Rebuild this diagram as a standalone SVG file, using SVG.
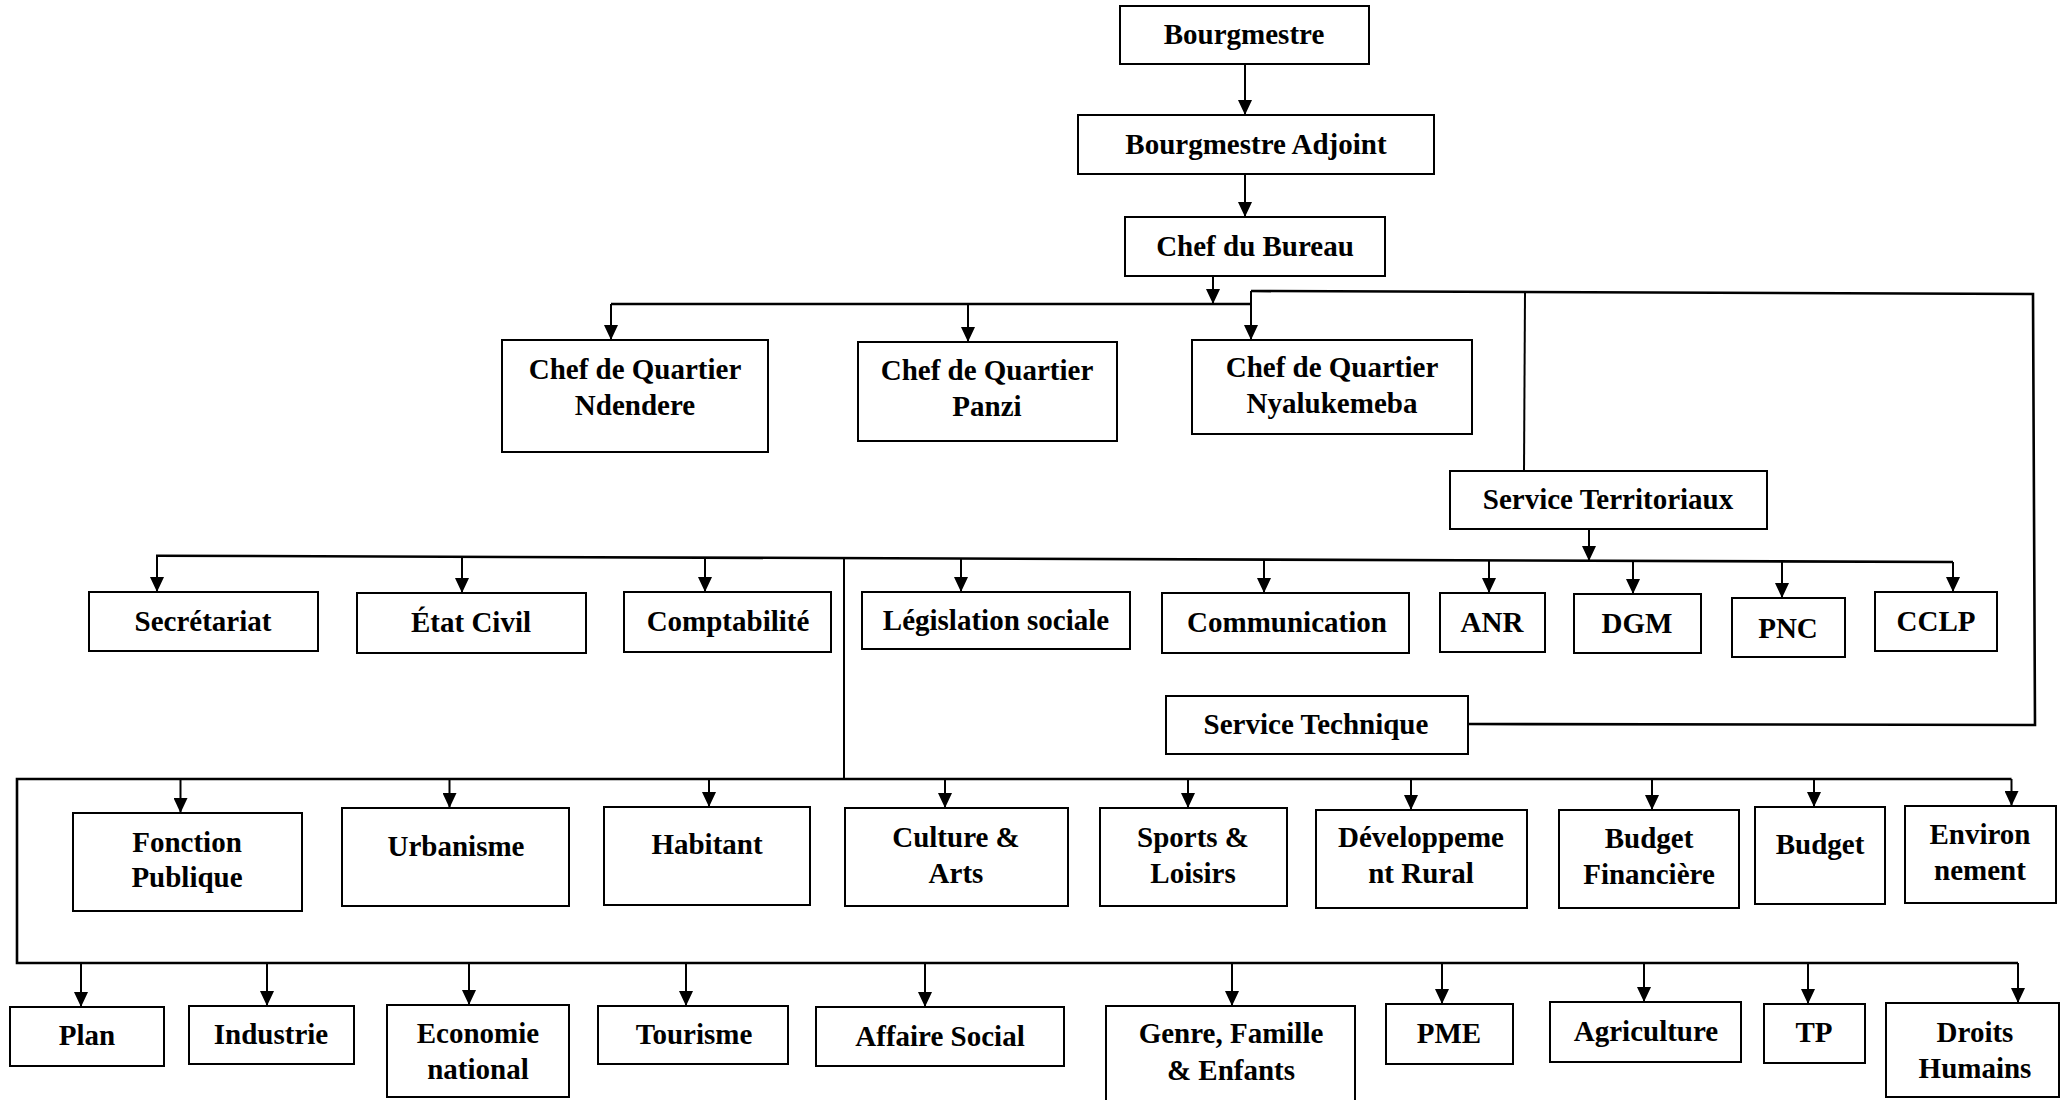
<svg xmlns="http://www.w3.org/2000/svg" width="2062" height="1100" viewBox="0 0 2062 1100">
<style>
.box{fill:#fff;stroke:#000;stroke-width:2}
.t{font-family:"Liberation Serif","Times New Roman",serif;font-weight:bold;font-size:29px;fill:#000;text-anchor:middle}
.ln{fill:none;stroke:#000;stroke-width:2}
.bus{fill:none;stroke:#000;stroke-width:2.6}
.ar{fill:none;stroke:#000;stroke-width:2;marker-end:url(#ah)}
</style>
<defs>
<marker id="ah" markerUnits="userSpaceOnUse" viewBox="0 0 15 14" markerWidth="15" markerHeight="14" refX="15" refY="7" orient="auto">
<path d="M0,0 L15,7 L0,14 z" fill="#000"/>
</marker>
</defs>
<rect width="2062" height="1100" fill="#fff"/>
<g id="connectors">
<line class="ar" x1="1245" y1="64" x2="1245" y2="115"/>
<line class="ar" x1="1245" y1="174" x2="1245" y2="217"/>
<line class="ar" x1="1213" y1="276" x2="1213" y2="304"/>
<line class="bus" x1="611" y1="304" x2="1251" y2="304"/>
<line class="ar" x1="611" y1="304" x2="611" y2="340"/>
<line class="ar" x1="968" y1="304" x2="968" y2="342"/>
<line class="ar" x1="1251" y1="291" x2="1251" y2="340"/>
<polyline class="bus" points="1251,291 2033,294 2035,725 1468,724"/>
<line class="ln" x1="1525" y1="292" x2="1524" y2="471"/>
<line class="ar" x1="1589" y1="529" x2="1589" y2="561"/>
<line class="bus" x1="156" y1="555.7" x2="1953" y2="562"/>
<line class="ar" x1="157" y1="556" x2="157" y2="592"/>
<line class="ar" x1="462" y1="557" x2="462" y2="593"/>
<line class="ar" x1="705" y1="557.5" x2="705" y2="592"/>
<line class="ar" x1="961" y1="558.5" x2="961" y2="592"/>
<line class="ar" x1="1264" y1="559.5" x2="1264" y2="593"/>
<line class="ar" x1="1489" y1="560.4" x2="1489" y2="593"/>
<line class="ar" x1="1633" y1="561" x2="1633" y2="594"/>
<line class="ar" x1="1782" y1="561.4" x2="1782" y2="598"/>
<line class="ar" x1="1953" y1="562" x2="1953" y2="592"/>
<line class="ln" x1="844" y1="558" x2="844" y2="779"/>
<polyline class="bus" points="2011.5,779 17,779 17,963 2018,963"/>
<line class="ar" x1="180.5" y1="779" x2="180.5" y2="813"/>
<line class="ar" x1="449.5" y1="779" x2="449.5" y2="808"/>
<line class="ar" x1="709" y1="779" x2="709" y2="807"/>
<line class="ar" x1="945" y1="779" x2="945" y2="808"/>
<line class="ar" x1="1188" y1="779" x2="1188" y2="808"/>
<line class="ar" x1="1411" y1="779" x2="1411" y2="810"/>
<line class="ar" x1="1652" y1="779" x2="1652" y2="810"/>
<line class="ar" x1="1814" y1="779" x2="1814" y2="807"/>
<line class="ar" x1="2011.5" y1="779" x2="2011.5" y2="806"/>
<line class="ar" x1="81" y1="963" x2="81" y2="1007"/>
<line class="ar" x1="267" y1="963" x2="267" y2="1006"/>
<line class="ar" x1="469" y1="963" x2="469" y2="1005"/>
<line class="ar" x1="686" y1="963" x2="686" y2="1006"/>
<line class="ar" x1="925" y1="963" x2="925" y2="1007"/>
<line class="ar" x1="1232" y1="963" x2="1232" y2="1006"/>
<line class="ar" x1="1442" y1="963" x2="1442" y2="1004"/>
<line class="ar" x1="1644" y1="963" x2="1644" y2="1002"/>
<line class="ar" x1="1808" y1="963" x2="1808" y2="1004"/>
<line class="ar" x1="2018" y1="963" x2="2018" y2="1003"/>
</g>
<g id="bourgmestre"><rect class="box" x="1120" y="6" width="249" height="58"/><text class="t" x="1244" y="44">Bourgmestre</text></g>
<g id="adjoint"><rect class="box" x="1078" y="115" width="356" height="59"/><text class="t" x="1256" y="154">Bourgmestre Adjoint</text></g>
<g id="chef_bureau"><rect class="box" x="1125" y="217" width="260" height="59"/><text class="t" x="1255" y="256">Chef du Bureau</text></g>
<g id="q_ndendere"><rect class="box" x="502" y="340" width="266" height="112"/><text class="t" x="635" y="379">Chef de Quartier</text><text class="t" x="635" y="415">Ndendere</text></g>
<g id="q_panzi"><rect class="box" x="858" y="342" width="259" height="99"/><text class="t" x="987" y="380">Chef de Quartier</text><text class="t" x="987" y="416">Panzi</text></g>
<g id="q_nyalukemeba"><rect class="box" x="1192" y="340" width="280" height="94"/><text class="t" x="1332" y="377">Chef de Quartier</text><text class="t" x="1332" y="413">Nyalukemeba</text></g>
<g id="service_territoriaux"><rect class="box" x="1450" y="471" width="317" height="58"/><text class="t" x="1608" y="509">Service Territoriaux</text></g>
<g id="secretariat"><rect class="box" x="89" y="592" width="229" height="59"/><text class="t" x="203" y="631">Secrétariat</text></g>
<g id="etat_civil"><rect class="box" x="357" y="593" width="229" height="60"/><text class="t" x="471" y="632">État Civil</text></g>
<g id="comptabilite"><rect class="box" x="624" y="592" width="207" height="60"/><text class="t" x="728" y="631">Comptabilité</text></g>
<g id="legislation"><rect class="box" x="862" y="592" width="268" height="57"/><text class="t" x="996" y="630">Législation sociale</text></g>
<g id="communication"><rect class="box" x="1162" y="593" width="247" height="60"/><text class="t" x="1287" y="632">Communication</text></g>
<g id="anr"><rect class="box" x="1440" y="593" width="105" height="59"/><text class="t" x="1492" y="632">ANR</text></g>
<g id="dgm"><rect class="box" x="1574" y="594" width="127" height="59"/><text class="t" x="1637" y="633">DGM</text></g>
<g id="pnc"><rect class="box" x="1732" y="598" width="113" height="59"/><text class="t" x="1788" y="638">PNC</text></g>
<g id="cclp"><rect class="box" x="1875" y="592" width="122" height="59"/><text class="t" x="1936" y="631">CCLP</text></g>
<g id="service_technique"><rect class="box" x="1166" y="696" width="302" height="58"/><text class="t" x="1316" y="734">Service Technique</text></g>
<g id="fonction_publique"><rect class="box" x="73" y="813" width="229" height="98"/><text class="t" x="187" y="852">Fonction</text><text class="t" x="187" y="887">Publique</text></g>
<g id="urbanisme"><rect class="box" x="342" y="808" width="227" height="98"/><text class="t" x="456" y="856">Urbanisme</text></g>
<g id="habitant"><rect class="box" x="604" y="807" width="206" height="98"/><text class="t" x="707" y="854">Habitant</text></g>
<g id="culture_arts"><rect class="box" x="845" y="808" width="223" height="98"/><text class="t" x="956" y="847">Culture &amp;</text><text class="t" x="956" y="883">Arts</text></g>
<g id="sports_loisirs"><rect class="box" x="1100" y="808" width="187" height="98"/><text class="t" x="1193" y="847">Sports &amp;</text><text class="t" x="1193" y="883">Loisirs</text></g>
<g id="developpement_rural"><rect class="box" x="1316" y="810" width="211" height="98"/><text class="t" x="1421" y="847">Développeme</text><text class="t" x="1421" y="883">nt Rural</text></g>
<g id="budget_financiere"><rect class="box" x="1559" y="810" width="180" height="98"/><text class="t" x="1649" y="848">Budget</text><text class="t" x="1649" y="884">Financière</text></g>
<g id="budget"><rect class="box" x="1755" y="807" width="130" height="97"/><text class="t" x="1820" y="854">Budget</text></g>
<g id="environnement"><rect class="box" x="1905" y="806" width="151" height="97"/><text class="t" x="1980" y="844">Environ</text><text class="t" x="1980" y="880">nement</text></g>
<g id="plan"><rect class="box" x="10" y="1007" width="154" height="59"/><text class="t" x="87" y="1045">Plan</text></g>
<g id="industrie"><rect class="box" x="189" y="1006" width="165" height="58"/><text class="t" x="271" y="1044">Industrie</text></g>
<g id="economie_national"><rect class="box" x="387" y="1005" width="182" height="92"/><text class="t" x="478" y="1043">Economie</text><text class="t" x="478" y="1079">national</text></g>
<g id="tourisme"><rect class="box" x="598" y="1006" width="190" height="58"/><text class="t" x="694" y="1044">Tourisme</text></g>
<g id="affaire_social"><rect class="box" x="816" y="1007" width="248" height="59"/><text class="t" x="940" y="1046">Affaire Social</text></g>
<g id="genre_famille"><rect class="box" x="1106" y="1006" width="249" height="100"/><text class="t" x="1231" y="1043">Genre, Famille</text><text class="t" x="1231" y="1080">&amp; Enfants</text></g>
<g id="pme"><rect class="box" x="1386" y="1004" width="127" height="60"/><text class="t" x="1449" y="1043">PME</text></g>
<g id="agriculture"><rect class="box" x="1550" y="1002" width="191" height="60"/><text class="t" x="1646" y="1041">Agriculture</text></g>
<g id="tp"><rect class="box" x="1764" y="1004" width="101" height="59"/><text class="t" x="1814" y="1042">TP</text></g>
<g id="droits_humains"><rect class="box" x="1886" y="1003" width="173" height="94"/><text class="t" x="1975" y="1042">Droits</text><text class="t" x="1975" y="1078">Humains</text></g>
</svg>
